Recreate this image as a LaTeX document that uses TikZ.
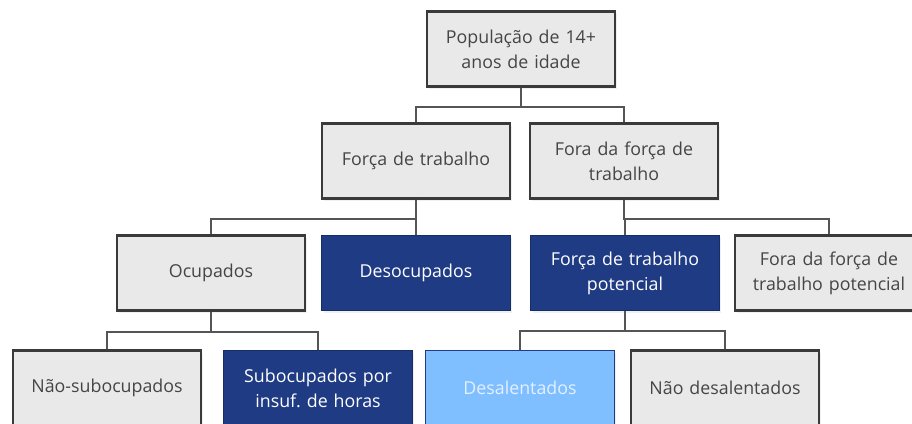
\documentclass[tikz,border=0pt]{standalone}
\usepackage{fontspec}
\setmainfont{Open Sans}
\usetikzlibrary{positioning,shadows}

\definecolor{boxgray}{HTML}{E9E9E9}
\definecolor{boxline}{HTML}{3A3A3A}
\definecolor{textgray}{HTML}{454545}
\definecolor{darkblue}{HTML}{1F3B84}
\definecolor{darkblueline}{HTML}{172D66}
\definecolor{lightblue}{HTML}{80BFFF}
\definecolor{paleblue}{HTML}{E2F0FF}
\definecolor{linkgray}{HTML}{555555}

\begin{document}
\begin{tikzpicture}[x=1pt, y=1pt, node distance=112pt]

    % Styles
    \tikzstyle{base} = [rectangle, minimum width=188pt, minimum height=75pt, text width=182pt, align=center, font=\fontsize{17.8}{25}\selectfont, drop shadow={opacity=0.12, shadow xshift=2pt, shadow yshift=-2pt}]
    \tikzstyle{graybox} = [base, draw=boxline, line width=2.2pt, fill=boxgray, text=textgray]
    \tikzstyle{bluebox} = [base, draw=darkblueline, line width=1.2pt, fill=darkblue, text=white]
    \tikzstyle{lightbox} = [base, draw=darkblue, line width=1.2pt, fill=lightblue, text=paleblue]
    \tikzstyle{link} = [draw=linkgray, line width=2pt]

    \useasboundingbox (0,0) rectangle (912,-423);

    % Nos
    \node (pop) [graybox] at (521,-49) {População de 14+\\anos de idade};
    \node (force) [graybox, below of=pop, xshift=-105pt] {Força de trabalho};
    \node (outforce) [graybox, below of=pop, xshift=103pt] {Fora da força de\\trabalho};
    \node (occ) [graybox, below of=force, xshift=-205pt] {Ocupados};
    \node (unocc) [bluebox, below of=force] {Desocupados};
    \node (potential) [bluebox, below of=outforce, xshift=1pt] {Força de trabalho\\potencial};
    \node (outpot) [graybox, below of=outforce, xshift=205pt] {Fora da força de\\trabalho potencial};
    \node (nonsub) [graybox, below of=occ, xshift=-104pt, yshift=-3pt] {Não-subocupados};
    \node (sub) [bluebox, below of=occ, xshift=107pt, yshift=-3pt] {Subocupados por\\insuf.\ de horas};
    \node (disc) [lightbox, below of=potential, xshift=-105pt, yshift=-3pt] {Desalentados};
    \node (nondisc) [graybox, below of=potential, xshift=100pt, yshift=-3pt] {Não desalentados};

    % Ligacoes
    \draw [link] (pop.south) -- ++(0,-19) -| (force);
    \draw [link] (pop.south) -- ++(0,-19) -| (outforce);
    \draw [link] (force.south) -- ++(0,-19) -| (occ);
    \draw [link] (force) -- (unocc);
    \draw [link] (outforce.south) -- ++(0,-19) -| (potential);
    \draw [link] (outforce.south) -- ++(0,-19) -| (outpot);
    \draw [link] (occ.south) -- ++(0,-20) -| (nonsub);
    \draw [link] (occ.south) -- ++(0,-20) -| (sub);
    \draw [link] (potential.south) -- ++(0,-20) -| (disc);
    \draw [link] (potential.south) -- ++(0,-20) -| (nondisc);

\end{tikzpicture}
\end{document}
